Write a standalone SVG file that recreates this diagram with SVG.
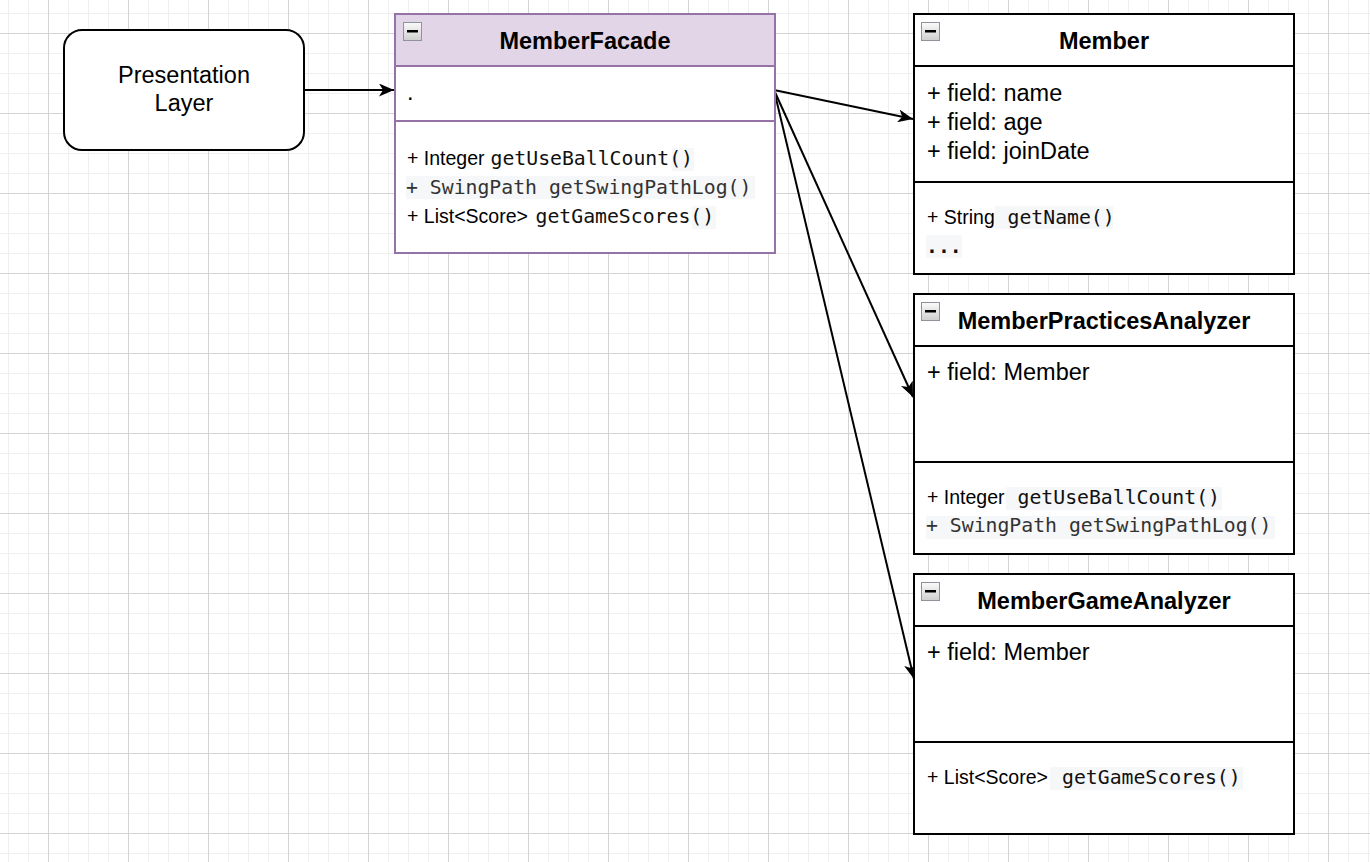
<svg xmlns="http://www.w3.org/2000/svg" width="1370" height="862" viewBox="0 0 1370 862">
<style>
.box{fill:#ffffff;stroke:#000000;stroke-width:2}
.purple{fill:#ffffff;stroke:#9673a6;stroke-width:2}
.phead{fill:#e1d5e7;stroke:#9673a6;stroke-width:2}
.div{stroke:#000000;stroke-width:2}
.pdiv{stroke:#9673a6;stroke-width:2}
.title{font-family:"Liberation Sans",Arial,sans-serif;font-weight:bold;font-size:23.5px;fill:#000;text-anchor:middle}
.field{font-family:"Liberation Sans",Arial,sans-serif;font-size:23.5px;fill:#000}
.msans{font-family:"Liberation Sans",Arial,sans-serif;font-size:19.5px;fill:#000}
.mono{font-family:"DejaVu Sans Mono","Liberation Mono",monospace;font-size:19.8px;fill:#111}
.mono2{font-family:"DejaVu Sans Mono","Liberation Mono",monospace;font-size:19.8px;fill:#333}
.code{fill:#f6f7f8}
.conn{stroke:#000;stroke-width:2;fill:none}
.icon{fill:url(#ig);stroke:#8e939c;stroke-width:1}
</style>
<defs>
<pattern id="minor" x="8" y="13" width="20" height="20" patternUnits="userSpaceOnUse">
<path d="M0,0.5 H20 M0.5,0 V20" stroke="#efefef" stroke-width="1" fill="none"/>
</pattern>
<pattern id="major" x="48" y="33" width="80" height="80" patternUnits="userSpaceOnUse">
<path d="M0,0.5 H80 M0.5,0 V80" stroke="#d3d3d3" stroke-width="1" fill="none"/>
</pattern>
<linearGradient id="ig" x1="0" y1="0" x2="0" y2="1">
<stop offset="0" stop-color="#fafafa"/>
<stop offset="1" stop-color="#cfcfcf"/>
</linearGradient>
<marker id="arrow" markerWidth="17" markerHeight="13" refX="15" refY="6.5" orient="auto" markerUnits="userSpaceOnUse">
<path d="M0,0 L15,6.5 L0,13 L4,6.5 Z" fill="#000"/>
</marker>
<g id="collapse">
<rect class="icon" x="0.5" y="0.5" width="18" height="18"/>
<rect x="4" y="8" width="11" height="2.5" fill="#000"/>
</g>
</defs>

<rect x="0" y="0" width="1370" height="862" fill="#ffffff"/>
<rect x="0" y="0" width="1370" height="862" fill="url(#minor)"/>
<rect x="0" y="0" width="1370" height="862" fill="url(#major)"/>

<g id="connectors">
<path class="conn" d="M304,90 L394,90" marker-end="url(#arrow)"/>
<path class="conn" d="M774,90 L913,119" marker-end="url(#arrow)"/>
<path class="conn" d="M774,90 L913,397" marker-end="url(#arrow)"/>
<path class="conn" d="M774,90 L914,679" marker-end="url(#arrow)"/>
</g>

<g id="presentation-layer">
<rect x="64" y="30" width="240" height="120" rx="18" ry="18" class="box"/>
<text x="184" y="83" class="field" text-anchor="middle">Presentation</text>
<text x="184" y="111" class="field" text-anchor="middle">Layer</text>
</g>

<g id="member-facade">
<rect x="395" y="14" width="380" height="239" class="purple"/>
<rect x="395" y="14" width="380" height="52" class="phead"/>
<line x1="395" y1="121" x2="775" y2="121" class="pdiv"/>
<use href="#collapse" x="403" y="22"/>
<text x="585" y="49" class="title">MemberFacade</text>
<text x="407" y="100" class="field">.</text>
<rect class="code" x="672" y="148" width="22" height="23"/>
<text x="407" y="165" class="msans">+ Integer</text>
<text x="490.5" y="165" class="mono">getUseBallCount()</text>
<rect class="code" x="406" y="176" width="349" height="23"/>
<text x="406" y="194" class="mono2">+ SwingPath getSwingPathLog()</text>
<rect class="code" x="692" y="206" width="24" height="23"/>
<text x="407" y="223" class="msans">+ List&lt;Score&gt;</text>
<text x="535.5" y="223" class="mono">getGameScores()</text>
</g>

<g id="member">
<rect x="914" y="14" width="380" height="260" class="box"/>
<line x1="914" y1="66" x2="1294" y2="66" class="div"/>
<line x1="914" y1="182" x2="1294" y2="182" class="div"/>
<use href="#collapse" x="921" y="22"/>
<text x="1104" y="49" class="title">Member</text>
<text x="927" y="100.5" class="field">+ field: name</text>
<text x="927" y="129.5" class="field">+ field: age</text>
<text x="927" y="158.5" class="field">+ field: joinDate</text>
<rect class="code" x="995" y="206" width="118" height="23"/>
<text x="927" y="223.5" class="msans">+ String</text>
<text x="1007.5" y="223.5" class="mono">getName()</text>
<rect class="code" x="926" y="235" width="36" height="23"/>
<text x="926" y="253" class="mono" font-weight="bold">...</text>
</g>

<g id="member-practices-analyzer">
<rect x="914" y="294" width="380" height="260" class="box"/>
<line x1="914" y1="346" x2="1294" y2="346" class="div"/>
<line x1="914" y1="462" x2="1294" y2="462" class="div"/>
<use href="#collapse" x="921" y="302"/>
<text x="1104" y="329" class="title">MemberPracticesAnalyzer</text>
<text x="927" y="380" class="field">+ field: Member</text>
<rect class="code" x="1006" y="487" width="216" height="23"/>
<text x="927" y="503.5" class="msans">+ Integer</text>
<text x="1017.5" y="503.5" class="mono">getUseBallCount()</text>
<rect class="code" x="926" y="516" width="349" height="23"/>
<text x="926" y="532" class="mono2">+ SwingPath getSwingPathLog()</text>
</g>

<g id="member-game-analyzer">
<rect x="914" y="574" width="380" height="260" class="box"/>
<line x1="914" y1="626" x2="1294" y2="626" class="div"/>
<line x1="914" y1="742" x2="1294" y2="742" class="div"/>
<use href="#collapse" x="921" y="582"/>
<text x="1104" y="609" class="title">MemberGameAnalyzer</text>
<text x="927" y="660" class="field">+ field: Member</text>
<rect class="code" x="1050" y="767" width="193" height="23"/>
<text x="927" y="783.5" class="msans">+ List&lt;Score&gt;</text>
<text x="1062" y="783.5" class="mono">getGameScores()</text>
</g>
</svg>
